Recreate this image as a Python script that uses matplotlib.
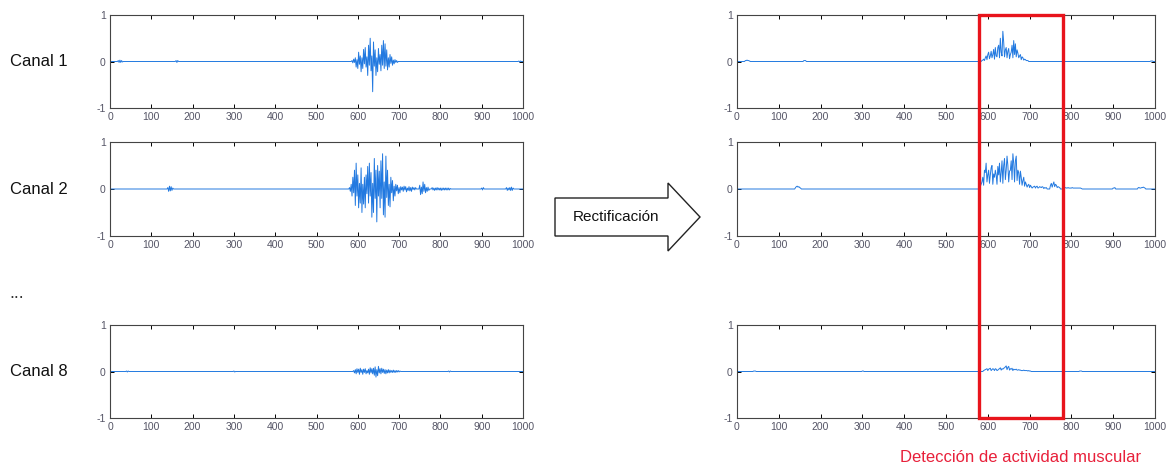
"""EMG channels before and after rectification, with the detected activity window."""
import matplotlib.pyplot as plt
import numpy as np
from matplotlib.patches import Polygon, Rectangle

plt.rcParams["axes.unicode_minus"] = False
plt.rcParams["font.family"] = ["Liberation Sans", "DejaVu Sans"]

# sample grid (every 2 samples over 0..1000)
n_max = 1000
step = 2

channel_names = ["Canal 1", "Canal 2", "Canal 8"]

# raw signal pieces: (first sample, values every 2 samples)
ch1_segments = [
    (20, [0.02, -0.02, 0.03, -0.02, 0.02, -0.01]),
    (160, [0.02, -0.02, 0.02]),
    (586, [0.02, -0.03, 0.05, -0.02, 0.08, -0.12, 0.04, -0.15, 0.20, -0.06,
           0.12, -0.22, 0.08, -0.15, 0.26, -0.05, 0.30, -0.12, 0.10, -0.30,
           0.35, -0.08, 0.50, -0.20, 0.12, -0.65, 0.42, -0.10, 0.25, -0.30,
           0.08, -0.22, 0.28, -0.06, 0.15, -0.20, 0.35, -0.08, 0.45, -0.15,
           0.38, -0.10, 0.25, -0.18, 0.08, -0.12, 0.15, -0.04, 0.10, -0.08,
           0.03, -0.05, 0.04, -0.02, 0.02, -0.02]),
    (990, [0.01, -0.01, 0.01]),
]
ch2_segments = [
    (140, [0.03, -0.05, 0.06, -0.04, 0.05, -0.03, 0.02]),
    (580, [0.03, -0.05, 0.10, -0.15, 0.25, -0.08, 0.40, -0.35, 0.55, -0.15,
           0.30, -0.40, 0.12, -0.30, 0.45, -0.50, 0.10, -0.32, 0.25, -0.40,
           0.30, -0.10, 0.48, -0.30, 0.55, -0.15, 0.35, -0.60, 0.12, -0.50,
           0.65, -0.20, 0.40, -0.70, 0.50, -0.15, 0.38, -0.40, 0.60, -0.20,
           0.75, -0.55, 0.15, -0.60, 0.70, -0.18, 0.40, -0.35, 0.10, -0.38,
           0.25, -0.08, 0.18, -0.25, 0.06, -0.15, 0.10, -0.04, 0.08, -0.10,
           0.03, -0.08, 0.05, -0.02]),
    (708, [0.04, -0.05, 0.06, -0.02, 0.05, -0.06, 0.02, -0.03, 0.05, -0.04,
           0.03, -0.05, 0.04, -0.01, 0.03, -0.02, 0.03]),
    (750, [0.08, -0.12, 0.04, -0.10, 0.15, -0.05, 0.10, -0.08, 0.03, -0.05,
           0.04, -0.03]),
    (780, [0.03, -0.02, 0.02, -0.03, 0.02, -0.02, 0.03, -0.02, 0.02, -0.02,
           0.02, -0.03, 0.02, -0.02, 0.02, -0.02, 0.02, -0.02, 0.02, -0.02,
           0.02, -0.02, 0.01]),
    (900, [0.02, -0.02, 0.03]),
    (960, [0.03, -0.03, 0.02, -0.02, 0.03, -0.03, 0.04, -0.03, 0.02]),
]
ch8_segments = [
    (40, [0.01, -0.01, 0.01]),
    (300, [0.01, -0.01]),
    (590, [0.02, -0.03, 0.04, -0.05, 0.06, -0.02, 0.05, -0.06, 0.07, -0.02,
           0.04, -0.06, 0.05, -0.02, 0.06, -0.05, 0.02, -0.03, 0.05, -0.06,
           0.08, -0.03, 0.06, -0.05, 0.07, -0.08, 0.10, -0.12, 0.04, -0.09,
           0.11, -0.03, 0.06, -0.05, 0.07, -0.02, 0.05, -0.04, 0.04, -0.05,
           0.03, -0.03, 0.04, -0.03, 0.03, -0.02, 0.02, -0.02, 0.03, -0.02,
           0.02, -0.02, 0.02, -0.01, 0.02, -0.01, 0.01]),
    (820, [0.01, -0.01, 0.01]),
]

x_ticks = [0, 100, 200, 300, 400, 500, 600, 700, 800, 900, 1000]
y_ticks = [-1, 0, 1]

BLUE = "#2279e0"
RED = "#e8141c"


def build_signal(segments):
    t = np.arange(0, n_max + 1, step)
    y = np.zeros_like(t, dtype=float)
    for start, vals in segments:
        i0 = start // step
        y[i0:i0 + len(vals)] = vals
    return t, y


def style_axes(ax):
    ax.set_xlim(0, 1000)
    ax.set_ylim(-1, 1)
    ax.set_xticks(x_ticks)
    ax.set_yticks(y_ticks)
    ax.tick_params(direction="in", length=3, width=0.7, labelsize=7.5,
                   labelcolor="#555566", top=True, right=True, pad=3)
    for s in ax.spines.values():
        s.set_color("#444444")
        s.set_linewidth(0.8)


W, H = 1175, 468
fig = plt.figure(figsize=(W / 100, H / 100), dpi=100)

# panel rows in pixels (top, bottom)
rows = [(15, 108), (142, 236), (325, 418)]
left_px = (110, 523)
right_px = (737, 1155)

signals = [build_signal(s) for s in (ch1_segments, ch2_segments, ch8_segments)]

for (top, bot), name, (t, y) in zip(rows, channel_names, signals):
    b = 1 - bot / H
    h = (bot - top) / H
    axl = fig.add_axes([left_px[0] / W, b, (left_px[1] - left_px[0]) / W, h])
    axl.plot(t, y, color=BLUE, lw=0.7)
    style_axes(axl)
    axr = fig.add_axes([right_px[0] / W, b, (right_px[1] - right_px[0]) / W, h])
    axr.plot(t, np.abs(y), color=BLUE, lw=0.7)
    style_axes(axr)
    fig.text(10 / W, 1 - (top + bot) / 2 / H, name, fontsize=12,
             ha="left", va="center", color="#111111")

fig.text(9 / W, 1 - 294 / H, "...", fontsize=13, ha="left", va="center",
         color="#333333")

# arrow "Rectificación"
arrow_px = [(555, 198), (668, 198), (668, 183), (700, 217), (668, 251),
            (668, 236), (555, 236)]
arrow = Polygon([(x / W, 1 - y / H) for x, y in arrow_px], closed=True,
                facecolor="white", edgecolor="#222222", lw=1.0,
                transform=fig.transFigure)
fig.add_artist(arrow)
fig.text(616 / W, 1 - 217 / H, "Rectificación", fontsize=11, ha="center",
         va="center", color="#111111")

# red detection window
rect = Rectangle((979 / W, 1 - 418 / H), (1063 - 979) / W, (418 - 15) / H,
                 fill=False, edgecolor=RED, lw=2.4, transform=fig.transFigure)
fig.add_artist(rect)
fig.text(1021 / W, 1 - 457 / H, "Detección de actividad muscular",
         fontsize=12, ha="center", va="center", color="#e8203a")

fig.savefig("out.png", dpi=100)
plt.close(fig)
